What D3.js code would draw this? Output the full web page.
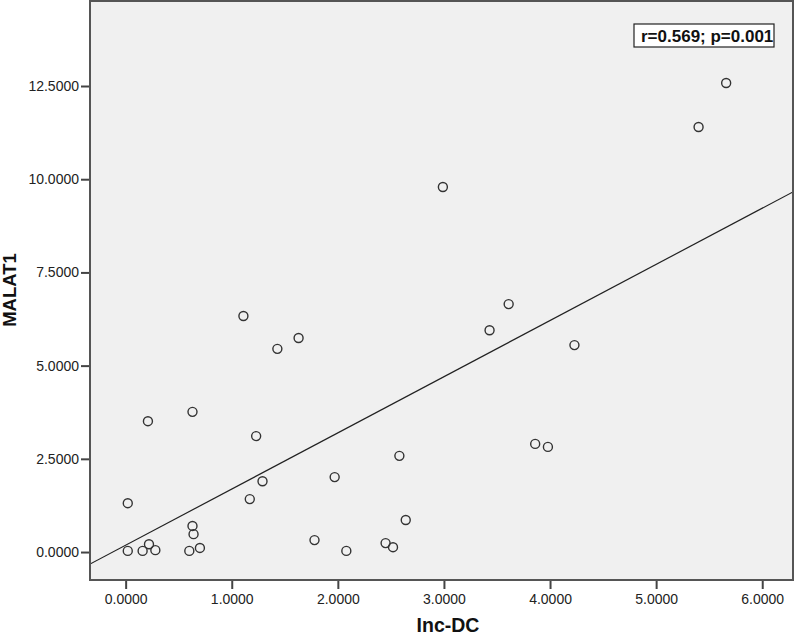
<!DOCTYPE html>
<html>
<head>
<meta charset="utf-8">
<script src="https://cdn.jsdelivr.net/npm/d3@7"></script>
<style>
  body { margin: 0; background: #fff; }
  text { font-family: "Liberation Sans", Arial, sans-serif; }
</style>
</head>
<body>
<script>
// Inc-DC (x) vs MALAT1 (y)
var incDC = [0.02, 0.02, 0.16, 0.22, 0.28, 0.21, 0.63, 0.63, 0.64, 0.60, 0.70,
  1.11, 1.23, 1.17, 1.29, 1.43, 1.63, 1.78, 2.08, 2.45, 2.52, 2.64, 1.97, 2.58,
  2.99, 3.43, 3.61, 3.86, 3.98, 4.23, 5.40, 5.66];
var malat1 = [1.31, 0.03, 0.03, 0.21, 0.05, 3.51, 3.76, 0.70, 0.48, 0.03, 0.11,
  6.33, 3.11, 1.42, 1.90, 5.45, 5.74, 0.32, 0.03, 0.24, 0.13, 0.86, 2.01, 2.58,
  9.79, 5.95, 6.65, 2.90, 2.82, 5.55, 11.40, 12.58];

var xTicks = [0, 1, 2, 3, 4, 5, 6];
var yTicks = [0, 2.5, 5, 7.5, 10, 12.5];
var xDomain = [-0.336, 6.29];
var yDomain = [-0.75, 14.78];
var statLabel = "r=0.569; p=0.001";

var width = 800, height = 637;
var plot = { left: 90, top: 1, right: 793, bottom: 580 };

var svg = d3.select("body").append("svg")
  .attr("width", width)
  .attr("height", height);

var x = d3.scaleLinear().domain(xDomain).range([plot.left, plot.right]);
var y = d3.scaleLinear().domain(yDomain).range([plot.bottom, plot.top]);

// plot background
svg.append("rect")
  .attr("x", plot.left).attr("y", plot.top)
  .attr("width", plot.right - plot.left).attr("height", plot.bottom - plot.top)
  .attr("fill", "#f0f0f0");

svg.append("clipPath").attr("id", "clip")
  .append("rect")
  .attr("x", plot.left).attr("y", plot.top)
  .attr("width", plot.right - plot.left).attr("height", plot.bottom - plot.top);

// least squares fit line
var n = incDC.length;
var mx = d3.mean(incDC), my = d3.mean(malat1);
var sxy = 0, sxx = 0;
for (var i = 0; i < n; i++) {
  sxy += (incDC[i] - mx) * (malat1[i] - my);
  sxx += (incDC[i] - mx) * (incDC[i] - mx);
}
var slope = sxy / sxx;
var intercept = my - slope * mx;

svg.append("line")
  .attr("clip-path", "url(#clip)")
  .attr("x1", x(xDomain[0])).attr("y1", y(intercept + slope * xDomain[0]))
  .attr("x2", x(xDomain[1])).attr("y2", y(intercept + slope * xDomain[1]))
  .attr("stroke", "#222")
  .attr("stroke-width", 1.2);

// points
svg.selectAll(".pt")
  .data(d3.range(n))
  .enter().append("circle")
  .attr("class", "pt")
  .attr("cx", function (d) { return x(incDC[d]); })
  .attr("cy", function (d) { return y(malat1[d]); })
  .attr("r", 4.5)
  .attr("fill", "none")
  .attr("stroke", "#333")
  .attr("stroke-width", 1.4);

// axes
var fmt = d3.format(".4f");
var xAxis = svg.append("g")
  .attr("transform", "translate(0," + plot.bottom + ")")
  .call(d3.axisBottom(x).tickValues(xTicks).tickFormat(fmt).tickSize(9).tickPadding(5));
var yAxis = svg.append("g")
  .attr("transform", "translate(" + plot.left + ",0)")
  .call(d3.axisLeft(y).tickValues(yTicks).tickFormat(fmt).tickSize(9).tickPadding(2));

[xAxis, yAxis].forEach(function (g) {
  g.select(".domain").remove();
  g.selectAll(".tick line").attr("stroke", "#444").attr("stroke-width", 2);
  g.selectAll(".tick text")
    .attr("fill", "#222")
    .style("font-size", "14px")
    .style("font-family", "'Liberation Sans', Arial, sans-serif");
});

// frame
svg.append("rect")
  .attr("x", plot.left).attr("y", plot.top)
  .attr("width", plot.right - plot.left).attr("height", plot.bottom - plot.top)
  .attr("fill", "none")
  .attr("stroke", "#555")
  .attr("stroke-width", 2);

// axis titles
svg.append("text")
  .attr("x", 448)
  .attr("y", 632)
  .attr("text-anchor", "middle")
  .style("font-size", "19.5px")
  .style("font-weight", "bold")
  .attr("fill", "#111")
  .text("Inc-DC");

svg.append("text")
  .attr("transform", "translate(16,290) rotate(-90)")
  .attr("text-anchor", "middle")
  .style("font-size", "18.5px")
  .style("font-weight", "bold")
  .attr("fill", "#111")
  .text("MALAT1");

// stat annotation
var box = svg.append("g").attr("transform", "translate(634,24)");
box.append("rect")
  .attr("width", 140).attr("height", 23)
  .attr("fill", "#fff")
  .attr("stroke", "#222")
  .attr("stroke-width", 1.2);
box.append("text")
  .attr("x", 7).attr("y", 18)
  .style("font-size", "17px")
  .style("font-weight", "bold")
  .attr("fill", "#111")
  .text(statLabel);
</script>
</body>
</html>
